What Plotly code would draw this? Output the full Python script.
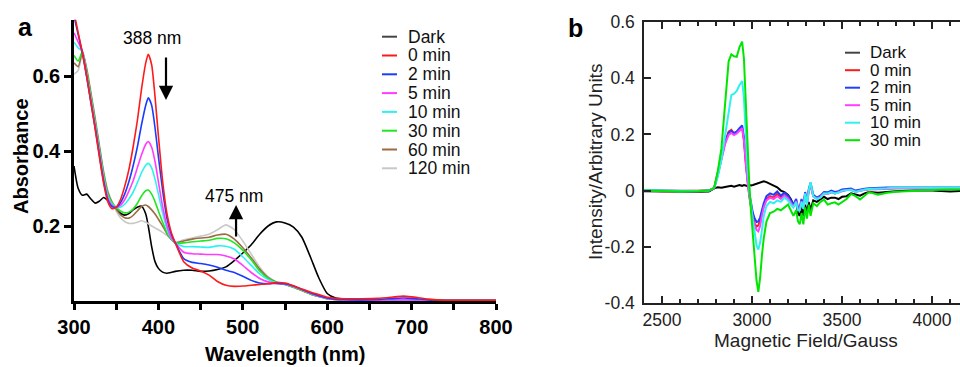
import plotly.graph_objects as go

W, H = 960, 367
FONT = "Liberation Sans, Arial, sans-serif"

# ---------------- Panel a : UV-vis absorbance ----------------
wavelength_nm = [300, 305, 310, 315, 320, 325, 330, 335, 340, 345,
                 350, 355, 360, 365, 370, 375, 380, 385, 388, 392,
                 396, 400, 405, 410, 415, 420, 430, 440, 450, 460,
                 470, 480, 490, 500, 510, 520, 530, 540, 550, 560,
                 570, 580, 590, 600, 610, 620, 640, 660, 680, 690,
                 700, 720, 740, 760, 800]

abs_dark = [0.360, 0.300, 0.282, 0.285, 0.272, 0.261, 0.266, 0.276, 0.268, 0.255,
            0.245, 0.234, 0.229, 0.233, 0.243, 0.250, 0.253, 0.232, 0.200, 0.145,
            0.105, 0.087, 0.077, 0.074, 0.076, 0.079, 0.082, 0.082, 0.079, 0.080,
            0.084, 0.091, 0.108, 0.128, 0.150, 0.178, 0.200, 0.211, 0.208, 0.197,
            0.170, 0.118, 0.062, 0.020, 0.008, 0.005, 0.004, 0.003, 0.003, 0.003,
            0.003, 0.002, 0.002, 0.002, 0.002]
abs_0min = [0.770, 0.715, 0.662, 0.600, 0.530, 0.460, 0.385, 0.315, 0.265, 0.246,
            0.250, 0.270, 0.305, 0.350, 0.410, 0.480, 0.565, 0.635, 0.658, 0.630,
            0.545, 0.440, 0.320, 0.235, 0.185, 0.155, 0.105, 0.088, 0.080, 0.069,
            0.052, 0.042, 0.039, 0.040, 0.042, 0.044, 0.046, 0.049, 0.048, 0.041,
            0.032, 0.024, 0.017, 0.010, 0.007, 0.006, 0.006, 0.007, 0.011, 0.013,
            0.011, 0.005, 0.002, 0.002, 0.002]
abs_2min = [0.760, 0.710, 0.660, 0.598, 0.530, 0.463, 0.390, 0.320, 0.270, 0.252,
            0.250, 0.262, 0.285, 0.318, 0.360, 0.410, 0.470, 0.522, 0.542, 0.522,
            0.462, 0.385, 0.295, 0.222, 0.180, 0.155, 0.113, 0.103, 0.100, 0.096,
            0.090, 0.082, 0.076, 0.066, 0.055, 0.048, 0.046, 0.047, 0.046, 0.040,
            0.031, 0.022, 0.014, 0.008, 0.005, 0.004, 0.003, 0.004, 0.007, 0.008,
            0.007, 0.003, 0.001, 0.001, 0.001]
abs_5min = [0.715, 0.690, 0.665, 0.602, 0.535, 0.468, 0.395, 0.325, 0.275, 0.255,
            0.250, 0.255, 0.270, 0.293, 0.320, 0.355, 0.390, 0.418, 0.425, 0.410,
            0.372, 0.318, 0.252, 0.202, 0.170, 0.155, 0.130, 0.126, 0.125, 0.124,
            0.124, 0.120, 0.112, 0.095, 0.076, 0.060, 0.051, 0.047, 0.045, 0.039,
            0.030, 0.021, 0.013, 0.007, 0.004, 0.003, 0.002, 0.002, 0.003, 0.003,
            0.003, 0.002, 0.001, 0.001, 0.001]
abs_10min = [0.690, 0.675, 0.665, 0.605, 0.540, 0.473, 0.400, 0.330, 0.280, 0.258,
             0.250, 0.250, 0.258, 0.272, 0.290, 0.315, 0.342, 0.362, 0.367, 0.355,
             0.325, 0.285, 0.235, 0.193, 0.168, 0.155, 0.145, 0.145, 0.144, 0.143,
             0.147, 0.146, 0.138, 0.118, 0.095, 0.072, 0.057, 0.048, 0.045, 0.039,
             0.030, 0.021, 0.013, 0.007, 0.004, 0.003, 0.002, 0.002, 0.003, 0.003,
             0.003, 0.002, 0.001, 0.001, 0.001]
abs_30min = [0.655, 0.640, 0.665, 0.612, 0.548, 0.480, 0.408, 0.338, 0.285, 0.262,
             0.250, 0.240, 0.235, 0.237, 0.245, 0.260, 0.280, 0.294, 0.296, 0.285,
             0.265, 0.240, 0.210, 0.183, 0.165, 0.155, 0.155, 0.158, 0.160, 0.162,
             0.167, 0.166, 0.155, 0.135, 0.110, 0.080, 0.060, 0.049, 0.044, 0.037,
             0.028, 0.019, 0.012, 0.006, 0.004, 0.003, 0.002, 0.002, 0.002, 0.002,
             0.002, 0.002, 0.001, 0.001, 0.001]
abs_60min = [0.635, 0.625, 0.665, 0.618, 0.553, 0.485, 0.413, 0.343, 0.290, 0.263,
             0.245, 0.230, 0.222, 0.221, 0.228, 0.240, 0.252, 0.256, 0.252, 0.243,
             0.232, 0.218, 0.200, 0.180, 0.165, 0.155, 0.160, 0.165, 0.168, 0.170,
             0.176, 0.178, 0.165, 0.142, 0.115, 0.085, 0.062, 0.050, 0.044, 0.037,
             0.028, 0.019, 0.012, 0.006, 0.004, 0.003, 0.002, 0.002, 0.002, 0.002,
             0.002, 0.002, 0.001, 0.001, 0.001]
abs_120min = [0.605, 0.615, 0.660, 0.622, 0.558, 0.490, 0.418, 0.348, 0.295, 0.265,
              0.240, 0.222, 0.212, 0.207, 0.207, 0.210, 0.214, 0.210, 0.206, 0.200,
              0.195, 0.190, 0.183, 0.175, 0.165, 0.157, 0.163, 0.168, 0.173, 0.178,
              0.190, 0.203, 0.190, 0.160, 0.125, 0.090, 0.065, 0.051, 0.045, 0.037,
              0.028, 0.019, 0.012, 0.006, 0.004, 0.003, 0.002, 0.002, 0.002, 0.002,
              0.002, 0.002, 0.001, 0.001, 0.001]

uv_names = ["Dark", "0 min", "2 min", "5 min", "10 min", "30 min", "60 min", "120 min"]
uv_values = [abs_dark, abs_0min, abs_2min, abs_5min, abs_10min, abs_30min, abs_60min, abs_120min]
uv_colors = ["#000000", "#ff1a1a", "#1a3cff", "#ff3cff", "#2ef2f2", "#22e622", "#9b6b43", "#c8c8c8"]
uv_xticks = [300, 400, 500, 600, 700, 800]
uv_yticks = [0.2, 0.4, 0.6]

# ---------------- Panel b : EPR ----------------
field_gauss = [2400, 2500, 2600, 2700, 2760, 2790, 2810, 2830, 2850, 2870,
               2885, 2900, 2915, 2930, 2945, 2955, 2965, 2975, 2985, 2995,
               3005, 3015, 3025, 3035, 3045, 3055, 3065, 3080, 3100, 3120,
               3140, 3160, 3180, 3200, 3215, 3230, 3245, 3255, 3265, 3275,
               3285, 3295, 3305, 3315, 3325, 3340, 3360, 3380, 3400, 3420,
               3440, 3460, 3480, 3500, 3525, 3550, 3575, 3600, 3625, 3650,
               3700, 3750, 3800, 3900, 4000, 4100, 4200]

epr_dark = [-0.002, -0.003, -0.005, -0.004, -0.003, 0.008, 0.012, 0.010, 0.013, 0.015,
            0.017, 0.014, 0.018, 0.020, 0.017, 0.020, 0.018, 0.016, 0.020, 0.018,
            0.020, 0.022, 0.025, 0.028, 0.030, 0.032, 0.033, 0.030, 0.025, 0.018,
            0.012, 0.000, -0.005, -0.015, -0.030, -0.050, -0.040, -0.080, -0.090, -0.060,
            -0.090, -0.050, -0.080, -0.040, -0.070, -0.035, -0.040, -0.030, -0.022, -0.030,
            -0.025, -0.025, -0.030, -0.022, -0.020, -0.010, -0.015, -0.018, -0.010, -0.005,
            -0.008, -0.004, -0.002, 0.000, 0.000, -0.003, 0.000]
epr_0min = [0.000, -0.002, -0.001, -0.002, 0.000, 0.010, 0.065, 0.125, 0.175, 0.210,
            0.216, 0.203, 0.208, 0.216, 0.224, 0.178, 0.098, 0.030, -0.020, -0.062,
            -0.095, -0.118, -0.128, -0.124, -0.104, -0.078, -0.052, -0.030, -0.020, -0.025,
            -0.012, -0.025, -0.015, -0.025, -0.040, -0.055, -0.035, -0.065, -0.065, -0.035,
            -0.060, -0.010, -0.045, 0.000, 0.020, -0.020, -0.028, -0.020, -0.008, -0.010,
            -0.005, -0.010, -0.006, 0.000, 0.002, 0.003, -0.004, 0.000, 0.003, 0.005,
            0.005, 0.007, 0.008, 0.008, 0.008, 0.008, 0.008]
epr_2min = [0.001, 0.000, -0.002, -0.001, 0.000, 0.008, 0.060, 0.120, 0.170, 0.205,
            0.212, 0.205, 0.210, 0.222, 0.232, 0.190, 0.110, 0.040, -0.010, -0.050,
            -0.080, -0.100, -0.112, -0.110, -0.095, -0.070, -0.045, -0.020, -0.010, -0.015,
            -0.003, -0.018, -0.008, -0.018, -0.035, -0.050, -0.030, -0.060, -0.060, -0.030,
            -0.055, -0.005, -0.040, 0.005, 0.028, -0.015, -0.025, -0.018, -0.005, -0.006,
            0.000, -0.005, -0.002, 0.004, 0.006, 0.007, 0.000, 0.004, 0.007, 0.008,
            0.010, 0.011, 0.011, 0.011, 0.011, 0.011, 0.011]
epr_5min = [0.000, -0.001, -0.002, -0.002, 0.000, 0.008, 0.055, 0.115, 0.165, 0.198,
            0.205, 0.198, 0.203, 0.213, 0.222, 0.180, 0.100, 0.030, -0.020, -0.065,
            -0.100, -0.125, -0.140, -0.145, -0.125, -0.090, -0.060, -0.035, -0.025, -0.030,
            -0.020, -0.030, -0.018, -0.028, -0.045, -0.058, -0.038, -0.068, -0.068, -0.038,
            -0.062, -0.012, -0.048, -0.002, 0.022, -0.020, -0.030, -0.022, -0.010, -0.012,
            -0.006, -0.010, -0.006, -0.002, 0.002, 0.003, -0.004, 0.000, 0.003, 0.005,
            0.005, 0.007, 0.008, 0.008, 0.008, 0.008, 0.008]
epr_10min = [0.002, 0.000, -0.002, -0.001, 0.000, 0.010, 0.050, 0.110, 0.200, 0.290,
             0.340, 0.345, 0.355, 0.375, 0.390, 0.330, 0.200, 0.080, 0.000, -0.060,
             -0.110, -0.150, -0.195, -0.210, -0.185, -0.140, -0.090, -0.055, -0.040, -0.045,
             -0.035, -0.040, -0.025, -0.035, -0.050, -0.060, -0.040, -0.070, -0.070, -0.040,
             -0.065, -0.010, -0.050, 0.000, 0.030, -0.020, -0.030, -0.025, -0.010, -0.010,
             -0.005, -0.010, -0.008, 0.000, 0.002, 0.003, -0.005, 0.000, 0.004, 0.006,
             0.006, 0.008, 0.010, 0.010, 0.010, 0.010, 0.010]
epr_30min = [0.000, -0.002, -0.003, -0.002, 0.000, 0.010, 0.070, 0.150, 0.320, 0.460,
             0.485, 0.478, 0.476, 0.510, 0.530, 0.470, 0.320, 0.160, 0.020, -0.080,
             -0.170, -0.250, -0.320, -0.360, -0.310, -0.230, -0.170, -0.110, -0.080, -0.075,
             -0.065, -0.070, -0.060, -0.050, -0.070, -0.090, -0.070, -0.110, -0.120, -0.080,
             -0.120, -0.060, -0.100, -0.050, -0.090, -0.045, -0.055, -0.040, -0.032, -0.050,
             -0.045, -0.042, -0.050, -0.040, -0.030, -0.012, -0.020, -0.032, -0.020, -0.005,
             -0.015, -0.008, -0.004, 0.000, 0.002, 0.004, 0.004]

epr_names = ["Dark", "0 min", "2 min", "5 min", "10 min", "30 min"]
epr_values = [epr_dark, epr_0min, epr_2min, epr_5min, epr_10min, epr_30min]
epr_colors = ["#000000", "#ff1a1a", "#2040ff", "#ff40ff", "#30f0f0", "#00e600"]
epr_xticks = [2500, 3000, 3500, 4000]
epr_yticks = [-0.4, -0.2, 0, 0.2, 0.4, 0.6]
epr_yticklabels = ["-0.4", "-0.2", "0", "0.2", "0.4", "0.6"]

fig = go.Figure()

# Panel a traces (Dark drawn first, red on top of the time series)
order_a = [0, 7, 6, 5, 4, 3, 2, 1]
for i in order_a:
    fig.add_trace(go.Scatter(
        x=wavelength_nm, y=uv_values[i], name=uv_names[i], mode="lines",
        line=dict(color=uv_colors[i], width=1.6, shape="spline", smoothing=0.6),
        xaxis="x", yaxis="y", showlegend=False))

for i in range(len(epr_names)):
    fig.add_trace(go.Scatter(
        x=field_gauss, y=epr_values[i], name=epr_names[i], mode="lines",
        line=dict(color=epr_colors[i], width=2),
        xaxis="x2", yaxis="y2", showlegend=False))


def px_x(p):
    return p / W


def px_y(p):
    return 1 - p / H


bold_tick = dict(family=FONT, size=20, color="black", weight="bold")
reg_tick = dict(family=FONT, size=17.5, color="#222222")

fig.update_layout(
    width=W, height=H,
    margin=dict(l=0, r=0, t=0, b=0, autoexpand=False),
    paper_bgcolor="white", plot_bgcolor="white",
    showlegend=False,
    xaxis=dict(domain=[px_x(74), px_x(496)], range=[300, 800], anchor="y",
               tickvals=uv_xticks, ticks="outside", ticklen=6, tickwidth=2.5,
               tickcolor="black", showline=True, linewidth=2.5, linecolor="black",
               showgrid=False, zeroline=False, tickfont=bold_tick, automargin=False,
               minor=dict(tickvals=[350, 450, 550, 650, 750], ticks="outside",
                          ticklen=6, tickwidth=2.5, tickcolor="black")),
    yaxis=dict(domain=[1 - 301 / H, 1 - 19.75 / H], range=[0, 0.75], anchor="x",
               tickvals=uv_yticks, ticktext=["0.2", "0.4", "0.6"],
               ticks="outside", ticklen=7, tickwidth=2.5, tickcolor="black",
               showline=True, linewidth=2.5, linecolor="black", automargin=False,
               showgrid=False, zeroline=False, tickfont=bold_tick),
    xaxis2=dict(domain=[px_x(644), 1.0], range=[2400, 4155], anchor="y2",
                tickvals=epr_xticks, ticks="inside", ticklen=7, tickwidth=1.5,
                tickcolor="#222222", showline=True, linewidth=1.5, linecolor="#222222",
                mirror="ticks", showgrid=False, zeroline=False, tickfont=reg_tick,
                automargin=False,
                minor=dict(dtick=100, tick0=2400, ticks="inside", ticklen=4,
                           tickwidth=1.5, tickcolor="#222222")),
    yaxis2=dict(domain=[1 - 303 / H, 1 - 22 / H], range=[-0.4, 0.6], anchor="x2",
                tickvals=epr_yticks, ticktext=epr_yticklabels,
                ticks="inside", ticklen=7, tickwidth=1.5, tickcolor="#222222",
                showline=True, linewidth=1.5, linecolor="#222222", automargin=False,
                showgrid=False, zeroline=False, tickfont=reg_tick,
                ticklabelstandoff=4),
)

annotations = []
shapes = []

# Panel labels
annotations.append(dict(text="a", x=px_x(16), y=px_y(27), xref="paper", yref="paper",
                        xanchor="left", yanchor="middle", showarrow=False,
                        font=dict(family=FONT, size=25, color="black", weight="bold")))
annotations.append(dict(text="b", x=px_x(566), y=px_y(28), xref="paper", yref="paper",
                        xanchor="left", yanchor="middle", showarrow=False,
                        font=dict(family=FONT, size=25, color="black", weight="bold")))

# Axis titles
annotations.append(dict(text="Absorbance", x=px_x(21), y=px_y(156), xref="paper", yref="paper",
                        textangle=-90, showarrow=False, xanchor="center", yanchor="middle",
                        font=dict(family=FONT, size=20, color="black", weight="bold")))
annotations.append(dict(text="Wavelength (nm)", x=px_x(285), y=px_y(354), xref="paper", yref="paper",
                        showarrow=False, xanchor="center", yanchor="middle",
                        font=dict(family=FONT, size=20, color="black", weight="bold")))
annotations.append(dict(text="Intensity/Arbitrary Units", x=px_x(595), y=px_y(162),
                        xref="paper", yref="paper", textangle=-90, showarrow=False,
                        xanchor="center", yanchor="middle",
                        font=dict(family=FONT, size=19, color="#222222")))
annotations.append(dict(text="Magnetic Field/Gauss", x=px_x(806), y=px_y(340),
                        xref="paper", yref="paper", showarrow=False,
                        xanchor="center", yanchor="middle",
                        font=dict(family=FONT, size=19, color="#222222")))

# Peak annotations with arrows
annotations.append(dict(text="388 nm", x=px_x(152), y=px_y(38), xref="paper", yref="paper",
                        showarrow=False, xanchor="center", yanchor="middle",
                        font=dict(family=FONT, size=17.5, color="black")))
annotations.append(dict(text="", x=409, y=0.536, xref="x", yref="y", ax=0, ay=-44,
                        showarrow=True, arrowhead=2, arrowsize=1.3, arrowwidth=2.2,
                        arrowcolor="black"))
annotations.append(dict(text="475 nm", x=px_x(234), y=px_y(196), xref="paper", yref="paper",
                        showarrow=False, xanchor="center", yanchor="middle",
                        font=dict(family=FONT, size=17.5, color="black")))
annotations.append(dict(text="", x=492, y=0.256, xref="x", yref="y", ax=0, ay=33,
                        showarrow=True, arrowhead=2, arrowsize=1.3, arrowwidth=2.2,
                        arrowcolor="black"))

# Manual legends (panel a)
leg_a_y0, leg_a_dy = 36.7, 18.8
for k, (nm, col) in enumerate(zip(uv_names, uv_colors)):
    yy = leg_a_y0 + k * leg_a_dy
    shapes.append(dict(type="line", xref="paper", yref="paper",
                       x0=px_x(382), x1=px_x(397), y0=px_y(yy), y1=px_y(yy),
                       line=dict(color="#444444" if k == 0 else col, width=2)))
    annotations.append(dict(text=nm, x=px_x(406), y=px_y(yy), xref="paper", yref="paper",
                            showarrow=False, xanchor="left", yanchor="middle",
                            font=dict(family=FONT, size=17.5, color="#111111")))

# Manual legends (panel b)
leg_b_y0, leg_b_dy = 52.7, 17.5
for k, (nm, col) in enumerate(zip(epr_names, epr_colors)):
    yy = leg_b_y0 + k * leg_b_dy
    shapes.append(dict(type="line", xref="paper", yref="paper",
                       x0=px_x(845), x1=px_x(860), y0=px_y(yy), y1=px_y(yy),
                       line=dict(color="#444444" if k == 0 else col, width=2)))
    annotations.append(dict(text=nm, x=px_x(868), y=px_y(yy), xref="paper", yref="paper",
                            showarrow=False, xanchor="left", yanchor="middle",
                            font=dict(family=FONT, size=17, color="#111111")))

fig.update_layout(annotations=annotations, shapes=shapes)

fig.write_html("out.html",
               config={"displayModeBar": False},
               post_script="document.body.style.margin='0px';document.body.style.overflow='hidden';")
